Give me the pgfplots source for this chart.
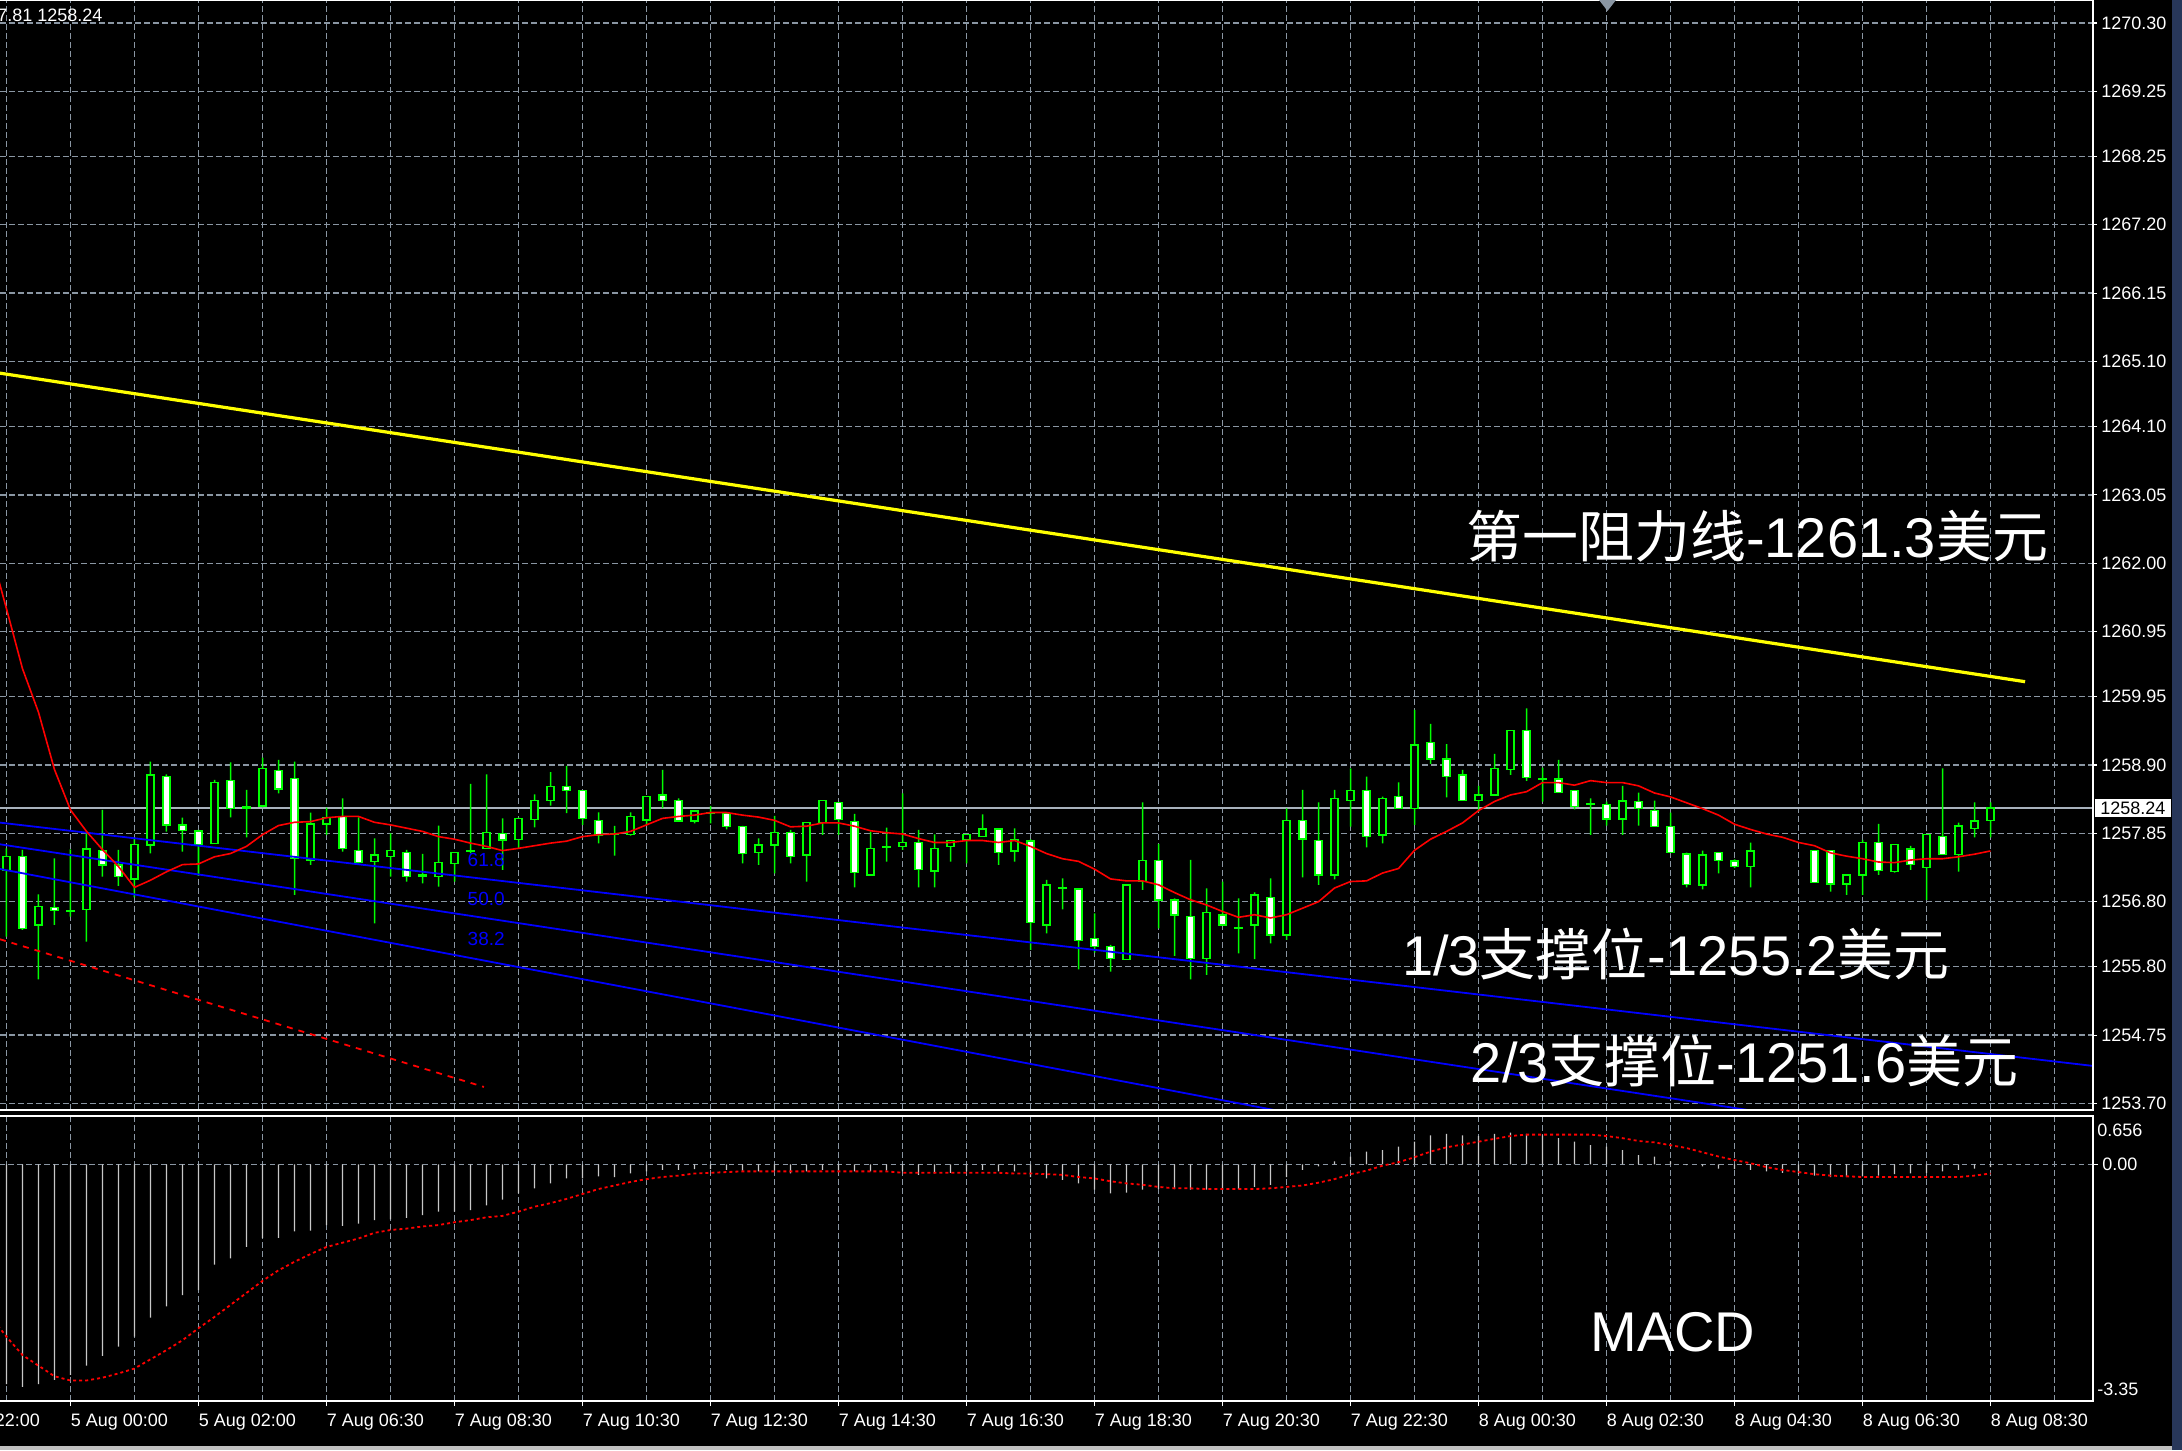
\documentclass[border=0pt]{standalone}
\usepackage{pgfplots}
\pgfplotsset{compat=1.18}
\usepackage{pgfplotstable}
\usepackage{fontspec}
\setmainfont{Liberation Sans}
\newfontfamily\cjk{Noto Sans CJK SC}
\definecolor{gridc}{HTML}{8A96A3}
\definecolor{candg}{HTML}{00FF00}
\definecolor{fanblue}{HTML}{0000FF}
\definecolor{histc}{HTML}{C8C8C8}
\definecolor{pline}{HTML}{A8B2BC}
\definecolor{ylw}{HTML}{FFFF00}
\definecolor{edge}{HTML}{28375A}
\newcommand{\lab}{\fontsize{9}{10}\selectfont}

\pgfplotstableread{
i o h l c
-4 1257.278 1257.621 1256.264 1257.493
-3 1257.493 1257.595 1256.366 1256.392
-2 1256.443 1256.914 1255.608 1256.725
-1 1256.715 1257.467 1256.443 1256.663
0 1256.658 1257.595 1256.571 1256.648
1 1256.684 1257.841 1256.187 1257.611
2 1257.585 1258.210 1257.186 1257.365
3 1257.365 1257.595 1257.042 1257.186
4 1257.150 1257.774 1256.868 1257.682
5 1257.672 1258.952 1257.544 1258.748
6 1258.722 1258.758 1257.877 1257.979
7 1257.979 1258.092 1257.570 1257.892
8 1257.887 1257.902 1257.196 1257.682
9 1257.698 1258.671 1257.698 1258.630
10 1258.660 1258.942 1258.097 1258.235
11 1258.261 1258.517 1257.790 1258.241
12 1258.271 1259.014 1258.251 1258.850
13 1258.814 1258.978 1258.466 1258.532
14 1258.696 1258.952 1256.904 1257.467
15 1257.442 1258.169 1257.365 1257.995
16 1257.995 1258.246 1257.826 1258.097
17 1258.107 1258.389 1257.570 1257.621
18 1257.585 1258.097 1257.390 1257.401
19 1257.416 1257.774 1256.469 1257.518
20 1257.493 1257.851 1257.186 1257.585
21 1257.554 1257.595 1257.109 1257.186
22 1257.211 1257.534 1257.083 1257.196
23 1257.186 1257.969 1257.032 1257.401
24 1257.390 1257.554 1257.109 1257.554
25 1257.575 1258.609 1257.544 1257.585
26 1257.621 1258.758 1257.621 1257.861
27 1257.851 1258.082 1257.288 1257.749
28 1257.759 1258.092 1257.621 1258.082
29 1258.066 1258.450 1257.943 1258.353
30 1258.353 1258.789 1258.276 1258.568
31 1258.568 1258.886 1258.159 1258.507
32 1258.507 1258.507 1257.979 1258.082
33 1258.046 1258.174 1257.698 1257.826
34 1257.851 1257.964 1257.508 1257.841
35 1257.836 1258.174 1257.815 1258.107
36 1258.056 1258.415 1257.979 1258.415
37 1258.440 1258.824 1258.235 1258.353
38 1258.353 1258.389 1258.030 1258.041
39 1258.041 1258.195 1258.005 1258.195
40 1258.174 1258.271 1258.005 1258.164
41 1258.159 1258.159 1257.913 1257.954
42 1257.954 1257.964 1257.390 1257.544
43 1257.554 1257.774 1257.365 1257.672
44 1257.672 1258.118 1257.237 1257.861
45 1257.861 1257.902 1257.390 1257.493
46 1257.518 1258.015 1257.109 1258.015
47 1258.015 1258.353 1257.826 1258.353
48 1258.322 1258.322 1257.826 1258.066
49 1258.030 1258.148 1257.022 1257.247
50 1257.211 1257.877 1257.211 1257.621
51 1257.636 1257.928 1257.416 1257.626
52 1257.647 1258.466 1257.595 1257.708
53 1257.708 1257.902 1257.022 1257.298
54 1257.273 1257.836 1257.022 1257.621
55 1257.647 1257.738 1257.416 1257.738
56 1257.749 1257.836 1257.390 1257.836
57 1257.800 1258.143 1257.800 1257.918
58 1257.918 1257.918 1257.365 1257.554
59 1257.580 1257.928 1257.416 1257.759
60 1257.733 1257.759 1256.059 1256.479
61 1256.443 1257.135 1256.315 1257.058
62 1257.022 1257.160 1256.684 1257.006
63 1256.996 1256.996 1255.762 1256.202
64 1256.238 1256.622 1256.018 1256.110
65 1256.110 1256.136 1255.726 1255.931
66 1255.916 1257.058 1255.916 1257.058
67 1257.109 1258.328 1256.981 1257.431
68 1257.431 1257.687 1256.392 1256.827
69 1256.827 1256.853 1255.967 1256.597
70 1256.571 1257.442 1255.608 1255.931
71 1255.931 1257.006 1255.675 1256.633
72 1256.597 1257.109 1256.443 1256.443
73 1256.407 1256.853 1256.007 1256.392
74 1256.443 1256.945 1255.916 1256.904
75 1256.868 1257.160 1256.161 1256.289
76 1256.289 1258.235 1256.213 1258.046
77 1258.046 1258.517 1257.175 1257.764
78 1257.738 1258.328 1257.058 1257.211
79 1257.211 1258.517 1257.145 1258.389
80 1258.353 1258.850 1257.954 1258.507
81 1258.507 1258.722 1257.636 1257.800
82 1257.826 1258.415 1257.698 1258.389
83 1258.415 1258.635 1258.235 1258.235
84 1258.235 1259.746 1257.979 1259.208
85 1259.244 1259.531 1258.916 1258.993
86 1258.993 1259.219 1258.404 1258.722
87 1258.748 1258.824 1258.353 1258.353
88 1258.353 1258.579 1258.184 1258.440
89 1258.440 1259.070 1258.440 1258.850
90 1258.835 1259.429 1258.748 1259.429
91 1259.429 1259.772 1258.655 1258.712
92 1258.686 1258.850 1258.338 1258.676
93 1258.686 1258.978 1258.476 1258.476
94 1258.507 1258.507 1258.220 1258.261
95 1258.302 1258.389 1257.826 1258.292
96 1258.297 1258.338 1257.969 1258.071
97 1258.071 1258.579 1257.826 1258.348
98 1258.338 1258.476 1257.969 1258.235
99 1258.200 1258.353 1257.954 1257.954
100 1257.954 1258.169 1257.554 1257.554
101 1257.534 1257.554 1257.022 1257.068
102 1257.058 1257.585 1256.991 1257.518
103 1257.554 1257.554 1257.237 1257.431
104 1257.426 1257.452 1257.314 1257.339
105 1257.339 1257.708 1257.022 1257.580
106 1257.580 1257.580 1257.580 1257.580
107 1257.580 1257.580 1257.580 1257.580
108 1257.580 1257.580 1257.580 1257.580
109 1257.585 1257.585 1257.094 1257.094
110 1257.585 1257.585 1256.955 1257.073
111 1257.073 1257.211 1256.904 1257.211
112 1257.211 1257.749 1256.904 1257.708
113 1257.708 1257.995 1257.211 1257.278
114 1257.263 1257.682 1257.247 1257.682
115 1257.611 1257.657 1257.288 1257.375
116 1257.329 1257.836 1256.827 1257.836
117 1257.800 1258.850 1257.529 1257.529
118 1257.529 1258.015 1257.263 1257.964
119 1257.928 1258.328 1257.790 1258.041
120 1258.046 1258.328 1257.790 1258.240
}\candles

\pgfplotstableread{
i ma
-5 1262.2
-4 1261.3
-3 1260.38
-2 1259.71
-1 1258.83
0 1258.21
1 1257.88
2 1257.60
3 1257.34
4 1257.02
5 1257.13
6 1257.26
7 1257.37
8 1257.38
9 1257.49
10 1257.54
11 1257.65
12 1257.83
13 1257.97
14 1258.02
15 1258.03
16 1258.09
17 1258.11
18 1258.11
19 1258.02
20 1257.98
21 1257.93
22 1257.88
23 1257.80
24 1257.76
25 1257.70
26 1257.65
27 1257.585
28 1257.62
29 1257.66
30 1257.70
31 1257.73
32 1257.80
33 1257.83
34 1257.84
35 1257.88
36 1257.98
37 1258.08
38 1258.11
39 1258.13
40 1258.17
41 1258.17
42 1258.13
43 1258.10
44 1258.05
45 1257.95
46 1257.96
47 1258.01
48 1258.01
49 1257.96
50 1257.89
51 1257.86
52 1257.84
53 1257.77
54 1257.71
55 1257.71
56 1257.74
57 1257.74
58 1257.71
59 1257.74
60 1257.65
61 1257.54
62 1257.46
63 1257.42
64 1257.30
65 1257.15
66 1257.12
67 1257.12
68 1257.06
69 1256.94
70 1256.83
71 1256.75
72 1256.65
73 1256.56
74 1256.60
75 1256.55
76 1256.60
77 1256.70
78 1256.80
79 1257.01
80 1257.11
81 1257.12
82 1257.24
83 1257.31
84 1257.59
85 1257.76
86 1257.88
87 1258.01
88 1258.20
89 1258.34
90 1258.44
91 1258.49
92 1258.63
93 1258.63
94 1258.59
95 1258.66
96 1258.63
97 1258.63
98 1258.58
99 1258.47
100 1258.41
101 1258.32
102 1258.23
103 1258.13
104 1257.99
105 1257.91
106 1257.84
107 1257.79
108 1257.71
109 1257.66
110 1257.55
111 1257.50
112 1257.46
113 1257.41
114 1257.40
115 1257.44
116 1257.46
117 1257.46
118 1257.49
119 1257.53
120 1257.58
}\matab

\pgfplotstableread{
i h s
-5 -3.05 -2.15
-4 -3.11 -2.44
-3 -3.15 -2.70
-2 -3.11 -2.85
-1 -3.05 -3.00
0 -2.98 -3.06
1 -2.85 -3.06
2 -2.71 -3.02
3 -2.58 -2.96
4 -2.44 -2.89
5 -2.17 -2.76
6 -2.01 -2.63
7 -1.85 -2.49
8 -1.78 -2.32
9 -1.42 -2.16
10 -1.33 -1.99
11 -1.17 -1.82
12 -1.04 -1.65
13 -1.04 -1.50
14 -0.95 -1.38
15 -0.94 -1.27
16 -0.86 -1.17
17 -0.87 -1.11
18 -0.84 -1.05
19 -0.79 -0.97
20 -0.78 -0.93
21 -0.76 -0.91
22 -0.72 -0.88
23 -0.67 -0.86
24 -0.67 -0.82
25 -0.65 -0.79
26 -0.58 -0.75
27 -0.50 -0.73
28 -0.41 -0.67
29 -0.34 -0.60
30 -0.27 -0.55
31 -0.20 -0.49
32 -0.20 -0.42
33 -0.17 -0.35
34 -0.18 -0.30
35 -0.13 -0.25
36 -0.10 -0.21
37 -0.08 -0.18
38 -0.08 -0.16
39 -0.07 -0.13
40 -0.07 -0.12
41 -0.08 -0.11
42 -0.09 -0.10
43 -0.10 -0.10
44 -0.09 -0.10
45 -0.13 -0.10
46 -0.10 -0.10
47 -0.08 -0.10
48 -0.08 -0.10
49 -0.10 -0.10
50 -0.10 -0.10
51 -0.09 -0.10
52 -0.10 -0.12
53 -0.15 -0.12
54 -0.13 -0.12
55 -0.12 -0.12
56 -0.10 -0.12
57 -0.08 -0.12
58 -0.10 -0.12
59 -0.10 -0.13
60 -0.18 -0.13
61 -0.20 -0.14
62 -0.22 -0.15
63 -0.27 -0.18
64 -0.36 -0.20
65 -0.41 -0.24
66 -0.40 -0.27
67 -0.36 -0.29
68 -0.35 -0.32
69 -0.35 -0.34
70 -0.36 -0.34
71 -0.36 -0.35
72 -0.36 -0.35
73 -0.35 -0.35
74 -0.32 -0.35
75 -0.29 -0.34
76 -0.18 -0.32
77 -0.08 -0.30
78 -0.03 -0.26
79 0.04 -0.21
80 0.11 -0.14
81 0.18 -0.09
82 0.20 -0.02
83 0.25 0.03
84 0.32 0.10
85 0.41 0.18
86 0.43 0.24
87 0.41 0.28
88 0.40 0.32
89 0.43 0.36
90 0.45 0.40
91 0.43 0.42
92 0.41 0.42
93 0.37 0.42
94 0.32 0.42
95 0.27 0.42
96 0.25 0.40
97 0.20 0.37
98 0.13 0.33
99 0.11 0.31
100 0.04 0.27
101 -0.01 0.23
102 -0.03 0.17
103 -0.06 0.11
104 -0.07 0.06
105 -0.08 0.015
106 -0.10 -0.04
107 -0.12 -0.08
108 -0.14 -0.11
109 -0.16 -0.14
110 -0.18 -0.16
111 -0.18 -0.17
112 -0.17 -0.18
113 -0.16 -0.18
114 -0.14 -0.18
115 -0.13 -0.18
116 -0.12 -0.18
117 -0.10 -0.18
118 -0.08 -0.18
119 -0.06 -0.16
120 -0.04 -0.13
}\macdtab

\begin{document}
\begin{tikzpicture}
\fill[black] (0,0) rectangle (1091pt,725pt);
\useasboundingbox (0,0) rectangle (1091pt,725pt);
\fill[edge] (1086pt,0) rectangle (1091pt,725pt);
\fill[black!25] (0,0) rectangle (1086pt,2pt);
\pgfplotsset{panel/.style={scale only axis, width=1046.5pt, xmin=-4.406, xmax=126.406, anchor=south west},
  mtgrid/.style={draw=gridc, line width=0.7pt, dash pattern=on 2.8pt off 1.7pt}}

% main panel: grid, price axis, bid line
\begin{axis}[panel, at={(0pt,170pt)}, height=554.5pt, ymin=1253.60, ymax=1270.638,
  axis line style={draw=none},
  xtick={0,8,...,120}, minor xtick={-4,4,...,124}, xticklabel={}, xtick style={draw=none},
  xmajorgrids, xminorgrids, ymajorgrids,
  major grid style={mtgrid}, minor grid style={mtgrid},
  ytick={1253.70,1254.75,1255.80,1256.80,1257.85,1258.90,1259.95,1260.95,1262.00,1263.05,1264.10,1265.10,1266.15,1267.20,1268.25,1269.25,1270.30},
  yticklabels={1253.70,1254.75,1255.80,1256.80,1257.85,1258.90,1259.95,1260.95,1262.00,1263.05,1264.10,1265.10,1266.15,1267.20,1268.25,1269.25,1270.30},
  ytick pos=right, yticklabel pos=right, tick align=outside,
  major tick length=2pt, minor tick length=0pt,
  ytick style={draw=white, line width=0.6pt},
  yticklabel style={font=\lab, text=white, anchor=west, inner sep=0pt},
  yticklabel shift=2pt]
\addplot[pline, line width=0.7pt] coordinates {(-5,1258.24) (127,1258.24)};
\end{axis}

% candles (stacked: invisible base, lower wick, bull body, bear body, upper wick)
\begin{axis}[panel, at={(0pt,170pt)}, height=554.5pt, ymin=3.60, ymax=20.638, hide axis, ybar stacked]
\addplot[draw=none, fill=none, bar width=0.7pt] table[x=i, y expr={\thisrow{l}-1250}] {\candles};
\addplot[draw=none, fill=candg, bar width=0.75pt] table[x=i, y expr={min(\thisrow{o},\thisrow{c})-\thisrow{l}}] {\candles};
\addplot[draw=candg, fill=black, line width=0.7pt, bar width=3.65pt] table[x=i, y expr={max(\thisrow{c}-\thisrow{o},0)}] {\candles};
\addplot[draw=candg, fill=white, line width=0.7pt, bar width=3.65pt] table[x=i, y expr={max(\thisrow{o}-\thisrow{c},0)}] {\candles};
\addplot[draw=none, fill=candg, bar width=0.75pt] table[x=i, y expr={\thisrow{h}-max(\thisrow{o},\thisrow{c})}] {\candles};
\end{axis}

% indicator lines and annotations
\begin{axis}[panel, at={(0pt,170pt)}, height=554.5pt, ymin=1253.60, ymax=1270.638, hide axis]
\addplot[ylw, line width=1.6pt] coordinates {(-4.406,1264.92) (122.16,1260.18)};
\addplot[fanblue, line width=0.9pt] coordinates {(-4.406,1258.015) (126.406,1254.277)};
\addplot[fanblue, line width=0.9pt] coordinates {(-4.406,1257.682) (126.406,1252.794)};
\addplot[fanblue, line width=0.9pt] coordinates {(-4.406,1257.303) (126.406,1251.220)};
\addplot[red, line width=0.9pt, dash pattern=on 3pt off 3pt] coordinates {(-4.406,1256.223) (25.84,1253.954)};
\addplot[red, line width=0.8pt] table[x=i, y=ma] {\matab};
\node[anchor=west, inner sep=0pt, text=fanblue, font=\fontsize{9.5}{10}\selectfont] at (axis cs:24.8,1257.44) {61.8};
\node[anchor=west, inner sep=0pt, text=fanblue, font=\fontsize{9.5}{10}\selectfont] at (axis cs:24.8,1256.84) {50.0};
\node[anchor=west, inner sep=0pt, text=fanblue, font=\fontsize{9.5}{10}\selectfont] at (axis cs:24.8,1256.22) {38.2};
\node[anchor=west, inner sep=0pt, text=white, font=\fontsize{28}{30}\selectfont] at (axis cs:87.2,1262.42) {{\cjk 第一阻力线}-1261.3{\cjk 美元}};
\node[anchor=west, inner sep=0pt, text=white, font=\fontsize{28}{30}\selectfont] at (axis cs:83.2,1255.99) {1/3{\cjk 支撑位}-1255.2{\cjk 美元}};
\node[anchor=west, inner sep=0pt, text=white, font=\fontsize{28}{30}\selectfont] at (axis cs:87.5,1254.36) {2/3{\cjk 支撑位}-1251.6{\cjk 美元}};
\end{axis}

% MACD panel
\begin{axis}[panel, at={(0pt,24.5pt)}, height=142.5pt, ymin=-3.35, ymax=0.6836,
  axis line style={draw=none},
  xtick={0,8,...,120}, minor xtick={-4,4,...,124},
  xticklabels={5 Aug 00:00,5 Aug 02:00,7 Aug 06:30,7 Aug 08:30,7 Aug 10:30,7 Aug 12:30,7 Aug 14:30,7 Aug 16:30,7 Aug 18:30,7 Aug 20:30,7 Aug 22:30,8 Aug 00:30,8 Aug 02:30,8 Aug 04:30,8 Aug 06:30,8 Aug 08:30},
  xmajorgrids, xminorgrids, major grid style={mtgrid}, minor grid style={mtgrid},
  xtick pos=left, tick align=outside, major tick length=2.5pt, minor tick length=0pt,
  xtick style={draw=white, line width=0.6pt},
  xticklabel style={font=\lab, text=white, anchor=north west, inner sep=0pt},
  xticklabel shift=4pt,
  ytick={0}, yticklabels={0.00}, ytick pos=right, yticklabel pos=right,
  extra y ticks={0.487,-3.18}, extra y tick labels={0.656,-3.35},
  extra y tick style={major tick length=0pt},
  ytick style={draw=white, line width=0.6pt},
  yticklabel style={font=\lab, text=white, anchor=west, inner sep=0pt},
  yticklabel shift=2pt]
\addplot[mtgrid] coordinates {(-5,0) (127,0)};
\addplot[ybar, bar width=0.6pt, fill=histc, draw=none] table[x=i, y=h] {\macdtab};
\addplot[red, line width=0.9pt, dash pattern=on 1.5pt off 1.5pt] table[x=i, y=s] {\macdtab};
\node[anchor=west, inner sep=0pt, text=white, font=\fontsize{28}{30}\selectfont] at (axis cs:94.97,-2.373) {MACD};
\end{axis}

% panel frames
\draw[white, line width=0.6pt] (0,724.6pt) -- (1046.5pt,724.6pt) -- (1046.5pt,170pt) -- (0,170pt);
\draw[white, line width=0.6pt] (0,167pt) -- (1046.5pt,167pt) -- (1046.5pt,24.5pt) -- (0,24.5pt);
% chart texts outside the plotting areas
\node[anchor=west, inner sep=0pt, text=white, font=\lab] at (-1.5pt,717.5pt) {7.81 1258.24};
\node[anchor=west, fill=white, text=black, font=\lab, inner xsep=2.5pt, inner ysep=1.5pt] at (1047.5pt,321pt) {1258.24};
\node[anchor=north west, inner sep=0pt, text=white, font=\lab] at (-28.75pt,18pt) {3 Aug 22:00};
\fill[gridc] (799.5pt,725pt) -- (808pt,725pt) -- (803.75pt,719.5pt) -- cycle;
\end{tikzpicture}
\end{document}
